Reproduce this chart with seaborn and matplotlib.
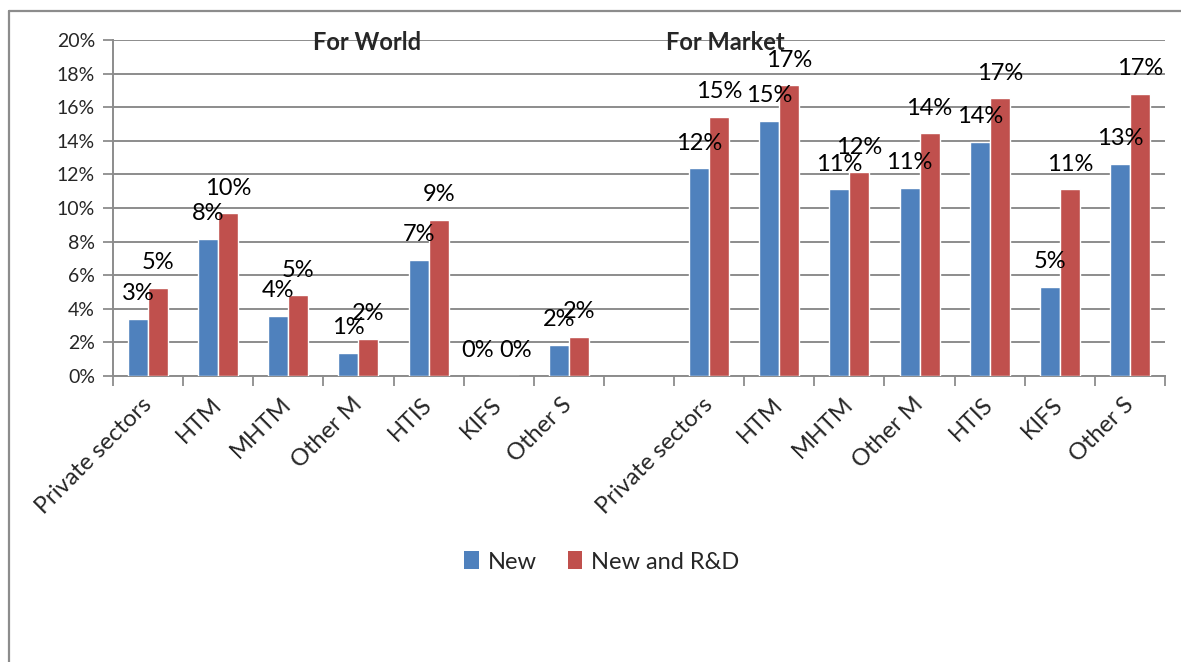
import matplotlib
matplotlib.use("Agg")
import matplotlib.pyplot as plt
import matplotlib.transforms as mtransforms
from matplotlib.lines import Line2D
from matplotlib.patches import Patch
import numpy as np
import pandas as pd
import seaborn as sns

# Sector categories (same set for both groups)
categories = ["Private sectors", "HTM", "MHTM", "Other M", "HTIS", "KIFS", "Other S"]
series_names = ["New", "New and R&D"]

# Shares in percent
world_new = [3.39, 8.15, 3.59, 1.39, 6.90, 0.0, 1.85]
world_rd = [5.26, 9.68, 4.80, 2.22, 9.29, 0.0, 2.34]
market_new = [12.36, 15.18, 11.11, 11.21, 13.95, 5.30, 12.62]
market_rd = [15.44, 17.30, 12.12, 14.44, 16.53, 11.11, 16.79]

group_titles = ["For World", "For Market"]
y_ticks = [0, 2, 4, 6, 8, 10, 12, 14, 16, 18, 20]

colors = ["#4F81BD", "#C0504D"]
grid_gray = "#8C8C8C"

sns.set_theme(style="white")
plt.rcParams["font.family"] = ["Lato", "DejaVu Sans"]

# Long-form table; the two groups are separated by an empty slot
rows = []
for grp, new_vals, rd_vals in (("World", world_new, world_rd),
                               ("Market", market_new, market_rd)):
    for cat, a, b in zip(categories, new_vals, rd_vals):
        key = f"{grp}|{cat}"
        rows.append({"slot": key, "series": series_names[0], "value": a})
        rows.append({"slot": key, "series": series_names[1], "value": b})
df = pd.DataFrame(rows)

gap_key = "gap"
order = [f"World|{c}" for c in categories] + [gap_key] + [f"Market|{c}" for c in categories]
tick_labels = [k.split("|")[1] if "|" in k else "" for k in order]

fig = plt.figure(figsize=(11.81, 6.62), dpi=100)
ax = fig.add_axes([113 / 1181, 1 - 376 / 662, (1165 - 113) / 1181, (376 - 40) / 662])

sns.barplot(data=df, x="slot", y="value", hue="series", order=order,
            hue_order=series_names, palette=colors, width=0.57,
            saturation=1, legend=False, ax=ax, zorder=3)

# Value labels above each bar; labels of empty bars are spread apart a little
for idx, cont in enumerate(ax.containers):
    for bar in cont:
        h = bar.get_height()
        dx = 0
        if h == 0:
            dx = -8 if idx == 0 else 5
        ax.annotate(f"{h:.0f}%", xy=(bar.get_x() + bar.get_width() / 2, h),
                    xytext=(dx, 13.5), textcoords="offset points",
                    ha="center", va="baseline", fontsize=17, color="black",
                    zorder=5)

ax.set_xlim(-0.5, len(order) - 0.5)
ax.set_ylim(0, 20)
ax.set_yticks(y_ticks)
ax.set_yticklabels([f"{v}%" for v in y_ticks], fontsize=14)
ax.yaxis.grid(True, color=grid_gray, linewidth=1.4, zorder=0)
ax.set_axisbelow(True)

ax.set_xticks(range(len(order)))
ax.set_xticklabels(tick_labels, rotation=45, ha="right", va="center",
                   rotation_mode="anchor", fontsize=17)
shift = mtransforms.ScaledTranslation(6 / 100, 0, fig.dpi_scale_trans)
for lab in ax.get_xticklabels():
    lab.set_transform(lab.get_transform() + shift)
ax.set_xticks(np.arange(-0.5, len(order), 1.0), minor=True)
ax.tick_params(axis="x", which="major", length=0, pad=18)
ax.tick_params(axis="x", which="minor", length=7, width=1.3, color=grid_gray,
               direction="out", bottom=True)
ax.tick_params(axis="y", length=7, width=1.3, color=grid_gray,
               direction="out", left=True, pad=6)
ax.set_xlabel("")
ax.set_ylabel("")

for side in ("top", "right"):
    ax.spines[side].set_visible(False)
for side in ("left", "bottom"):
    ax.spines[side].set_color(grid_gray)
    ax.spines[side].set_linewidth(1.4)

# Group headings
ax.text(3.12, 19.88, group_titles[0], ha="center", va="center",
        fontsize=17, fontweight="bold", zorder=6)
ax.text(8.23, 19.88, group_titles[1], ha="center", va="center",
        fontsize=17, fontweight="bold", zorder=6)

# Legend below the plot
handles = [Patch(facecolor=c, edgecolor="none") for c in colors]
fig.legend(handles, series_names, loc="center", ncol=2, frameon=False,
           bbox_to_anchor=(602 / 1181, 1 - 562 / 662), fontsize=17,
           handlelength=0.6, handleheight=0.8, handletextpad=0.4,
           columnspacing=1.3)

# Chart frame
fig.add_artist(Line2D([8.5 / 1181, 1.0], [1 - 11 / 662, 1 - 11 / 662],
                      color=grid_gray, linewidth=1.6, transform=fig.transFigure))
fig.add_artist(Line2D([8.5 / 1181, 8.5 / 1181], [0.0, 1 - 11 / 662],
                      color=grid_gray, linewidth=1.6, transform=fig.transFigure))

fig.savefig("out.png", dpi=100, facecolor="white")
